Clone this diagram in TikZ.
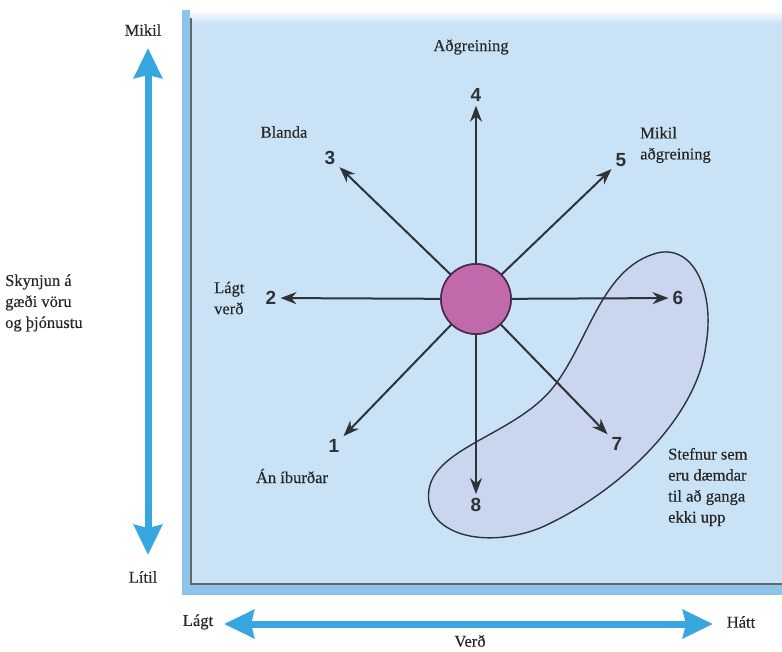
\documentclass[tikz,border=0pt]{standalone}
\usepackage{fontspec}
\setmainfont{Liberation Serif}
\newfontfamily\lblfont{Liberation Serif}[FakeBold=0.3]
\newfontfamily\numfont{Liberation Sans}
\usetikzlibrary{arrows.meta,calc,positioning,shapes}

\definecolor{panelblue}{HTML}{C9E2F6}
\definecolor{stripblue}{HTML}{8CC4EA}
\definecolor{axisblue}{HTML}{38A7E0}
\definecolor{beanfill}{HTML}{CAD5EF}
\definecolor{hubfill}{HTML}{C06AAC}
\definecolor{hubline}{HTML}{4A2A4A}
\definecolor{darkline}{HTML}{2E3338}

\tikzstyle{lbl} = [font=\lblfont\fontsize{16.5}{21}\selectfont, text=black!85, align=left, inner sep=0pt]
\tikzstyle{num} = [font=\numfont\bfseries\fontsize{19}{19}\selectfont, text=darkline, inner sep=4pt]
\tikzstyle{arrow} = [line width=2pt, draw=darkline, -{Stealth[length=16pt,width=12pt]}]
\tikzstyle{axis} = [line width=7pt, draw=axisblue, {Stealth[length=30pt,width=28pt,inset=3pt]}-{Stealth[length=30pt,width=28pt,inset=3pt]}]
\tikzstyle{hubstyle} = [circle, minimum size=70pt, fill=hubfill, draw=hubline, line width=1.6pt]

\begin{document}
\begin{tikzpicture}[x=1pt,y=-1pt]
\useasboundingbox (0,0) rectangle (782,651);

% panel
\fill[stripblue] (182,10) rectangle (782,595);
\fill[panelblue] (190,10) rectangle (782,584);
\shade[top color=white, bottom color=panelblue] (190,10) rectangle (782,24);
\draw[line width=1.4pt, draw=black!60] (191,18) -- (191,584) -- (782,584);

% region of failing strategies
\draw[line width=1.4pt, draw=darkline, fill=beanfill]
  (657,253) .. controls (694,244) and (715,292) .. (706,345)
  .. controls (697,420) and (615,495) .. (540,528)
  .. controls (478,552) and (418,530) .. (430,485)
  .. controls (442,445) and (520,432) .. (555,385)
  .. controls (590,338) and (602,268) .. (657,253) -- cycle;

% hub and directions
\node (hub) [hubstyle] at (476,299) {};
\node (n4) [num] at (476,95) {4};
\node (n3) [num] at (330,158) {3};
\node (n5) [num] at (621,160) {5};
\node (n2) [num] at (271,298) {2};
\node (n6) [num] at (678,298) {6};
\node (n1) [num] at (334,446) {1};
\node (n7) [num] at (617,444) {7};
\node (n8) [num] at (476,505) {8};

\foreach \n in {n1,n2,n3,n4,n5,n6,n7,n8}
  \draw [arrow] (hub) -- (\n);
\node (hubtop) [hubstyle] at (hub) {};

% labels
\node (agr) [lbl] at (471,47) {Aðgreining};
\node (bla) [lbl] at (284,132) {Blanda};
\node (mag) [lbl, anchor=west] at (640,145) {Mikil\\aðgreining};
\node (lag) [lbl, anchor=west] at (214,298) {Lágt\\verð};
\node (anib) [lbl] at (292,476) {Án íburðar};
\node (stef) [lbl, anchor=west] at (668,487) {Stefnur sem\\eru dæmdar\\til að ganga\\ekki upp};

% axes
\coordinate (ytop) at (148,48);
\coordinate (ybot) at (148,555);
\coordinate (xleft) at (224,624);
\coordinate (xright) at (713,624);
\draw [axis] (ybot) -- (ytop);
\draw [axis] (xleft) -- (xright);

\node (mik) [lbl] at (143,30) {Mikil};
\node (lit) [lbl] at (143,577) {Lítil};
\node (sky) [lbl, anchor=west] at (5,303) {Skynjun á\\gæði vöru\\og þjónustu};
\node (lgt) [lbl] at (198,622) {Lágt};
\node (hat) [lbl] at (741,622) {Hátt};
\node (ver) [lbl] at (470,641) {Verð};
\end{tikzpicture}
\end{document}
